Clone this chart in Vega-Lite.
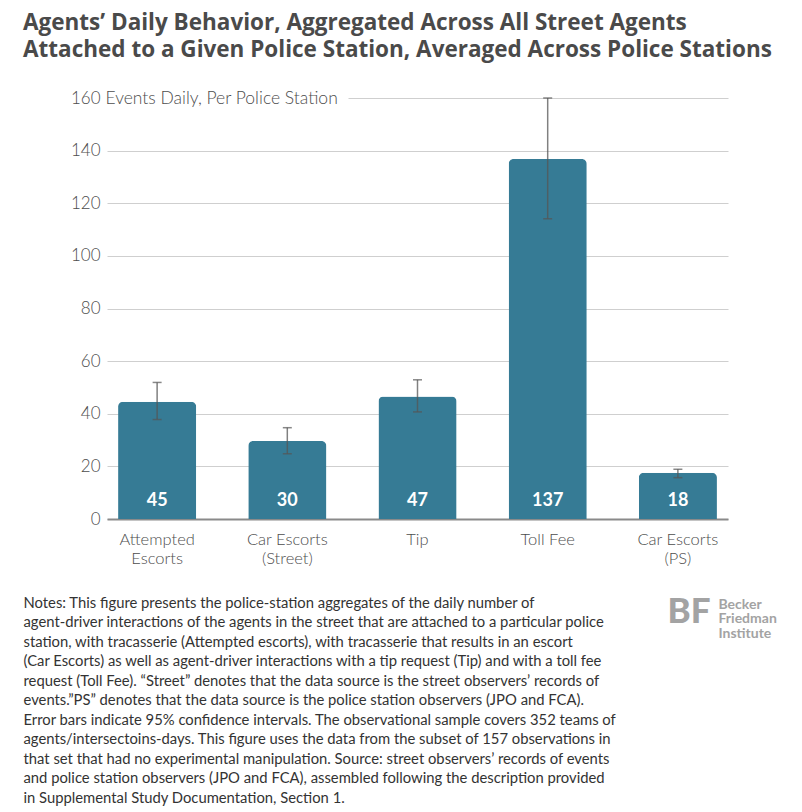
{
  "$schema": "https://vega.github.io/schema/vega-lite/v6.json",
  "autosize": {"type": "none"},
  "width": 621,
  "height": 421,
  "padding": {"left": 107, "top": 98, "right": 74, "bottom": 293},
  "background": "white",
  "config": {
    "view": {"stroke": null},
    "font": "Lato"
  },
  "title": {
    "text": ["Agents’ Daily Behavior, Aggregated Across All Street Agents", "Attached to a Given Police Station, Averaged Across Police Stations"],
    "anchor": "start",
    "frame": "group",
    "dx": -84,
    "offset": 28,
    "font": "Open Sans",
    "fontSize": 22.5,
    "fontWeight": "bold",
    "color": "#4a4a4a",
    "lineHeight": 26.5
  },
  "data": {
    "values": [
      {"category": "Attempted Escorts", "mean": 44.6, "lo": 37.8, "hi": 51.9},
      {"category": "Car Escorts (Street)", "mean": 29.6, "lo": 24.8, "hi": 34.7},
      {"category": "Tip", "mean": 46.6, "lo": 40.7, "hi": 52.9},
      {"category": "Toll Fee", "mean": 136.8, "lo": 114.1, "hi": 160},
      {"category": "Car Escorts (PS)", "mean": 17.6, "lo": 15.7, "hi": 18.9}
    ]
  },
  "layer": [
    {
      "mark": {"type": "bar", "color": "#367b95", "cornerRadiusTopLeft": 5, "cornerRadiusTopRight": 5},
      "encoding": {
        "x": {
          "field": "category", "type": "nominal", "sort": null,
          "scale": {"type": "band", "paddingInner": 0.4, "paddingOuter": 0.085},
          "axis": {
            "orient": "bottom",
            "labelAngle": 0,
            "labelFontSize": 16.5,
            "labelColor": "#4d4d4d",
            "labelFont": "Lato",
            "labelFontWeight": 300,
            "labelLineHeight": 19,
            "labelPadding": 12,
            "labelBaseline": "top",
            "ticks": false,
            "domain": true,
            "domainColor": "#8a8a8a",
            "domainWidth": 2,
            "labelExpr": "datum.value === 'Attempted Escorts' ? ['Attempted', 'Escorts'] : datum.value === 'Car Escorts (Street)' ? ['Car Escorts', '(Street)'] : datum.value === 'Car Escorts (PS)' ? ['Car Escorts', '(PS)'] : datum.label",
            "title": [
              "Notes: This figure presents the police-station aggregates of the daily number of",
              "agent-driver interactions of the agents in the street that are attached to a particular police",
              "station, with tracasserie (Attempted escorts), with tracasserie that results in an escort",
              "(Car Escorts) as well as agent-driver interactions with a tip request (Tip) and with a toll fee",
              "request (Toll Fee). “Street” denotes that the data source is the street observers’ records of",
              "events.”PS” denotes that the data source is the police station observers (JPO and FCA).",
              "Error bars indicate 95% confidence intervals. The observational sample covers 352 teams of",
              "agents/intersectoins-days. This figure uses the data from the subset of 157 observations in",
              "that set that had no experimental manipulation. Source: street observers’ records of events",
              "and police station observers (JPO and FCA), assembled following the description provided",
              "in Supplemental Study Documentation, Section 1."
            ],
            "titleAnchor": "start",
            "titleAlign": "left",
            "titleBaseline": "top",
            "titleX": -84,
            "titleY": 76,
            "titleFont": "Lato",
            "titleFontSize": 14.8,
            "titleFontWeight": "normal",
            "titleColor": "#333333",
            "titleLineHeight": 19.5
          }
        },
        "y": {
          "field": "mean", "type": "quantitative",
          "scale": {"domain": [0, 160], "nice": false, "zero": true},
          "axis": {
            "orient": "left",
            "values": [0, 20, 40, 60, 80, 100, 120, 140, 160],
            "labelFontSize": 17,
            "labelColor": "#4d4d4d",
            "labelFont": "Lato",
            "labelFontWeight": 300,
            "labelPadding": 7,
            "ticks": false,
            "domain": false,
            "grid": true,
            "gridColor": "#cfcfcf",
            "gridWidth": 1,
            "gridDash": {"condition": {"test": "datum.value === 160", "value": [0, 241, 380]}, "value": []},
            "title": "Events Daily, Per Police Station",
            "titleAngle": 0,
            "titleAlign": "left",
            "titleBaseline": "middle",
            "titleX": -2,
            "titleY": 0,
            "titleFont": "Lato",
            "titleFontSize": 17.5,
            "titleFontWeight": 300,
            "titleColor": "#4d4d4d"
          }
        }
      }
    },
    {
      "encoding": {
        "x": {"field": "category", "type": "nominal", "sort": null, "scale": {"type": "band", "paddingInner": 0.4, "paddingOuter": 0.085}, "axis": null}
      },
      "layer": [
        {
          "mark": {"type": "rule", "color": "#555555", "strokeWidth": 1.5, "opacity": 0.75},
          "encoding": {
            "y": {
              "field": "lo", "type": "quantitative",
              "scale": {"domain": [0, 160], "nice": false, "zero": true},
              "axis": {
                "orient": "right",
                "labels": false, "ticks": false, "domain": false, "grid": false,
                "title": ["Becker", "Friedman", "Institute"],
                "titleAngle": 0,
                "titleAlign": "left",
                "titleBaseline": "top",
                "titleX": -10,
                "titleY": 499,
                "titleFont": "Lato",
                "titleFontSize": 14,
                "titleFontWeight": "bold",
                "titleColor": "#a3a3a3",
                "titleLineHeight": 14.5
              }
            },
            "y2": {"field": "hi"}
          }
        },
        {
          "mark": {"type": "tick", "color": "#555555", "thickness": 1.5, "size": 9},
          "encoding": {"y": {"field": "lo", "type": "quantitative"}}
        },
        {
          "mark": {"type": "tick", "color": "#555555", "thickness": 1.5, "size": 9},
          "encoding": {"y": {"field": "hi", "type": "quantitative"}}
        }
      ]
    },
    {
      "mark": {"type": "text", "color": "white", "fontSize": 18, "fontWeight": "bold", "font": "Lato", "baseline": "middle", "dy": -18},
      "encoding": {
        "x": {
          "field": "category", "type": "nominal", "sort": null,
          "scale": {"type": "band", "paddingInner": 0.4, "paddingOuter": 0.085},
          "axis": {
            "orient": "top",
            "labels": false, "ticks": false, "domain": false,
            "title": "BF",
            "titleAnchor": "start",
            "titleAlign": "left",
            "titleBaseline": "top",
            "titleX": 560,
            "titleY": 496,
            "titleFont": "Lato",
            "titleFontSize": 35,
            "titleFontWeight": 900,
            "titleColor": "#a3a3a3"
          }
        },
        "y": {"datum": 0, "type": "quantitative", "scale": {"domain": [0, 160], "nice": false, "zero": true}, "axis": null},
        "text": {"field": "mean", "type": "quantitative", "format": ".0f"}
      }
    }
  ],
  "resolve": {"scale": {"x": "independent", "y": "independent"}}
}
